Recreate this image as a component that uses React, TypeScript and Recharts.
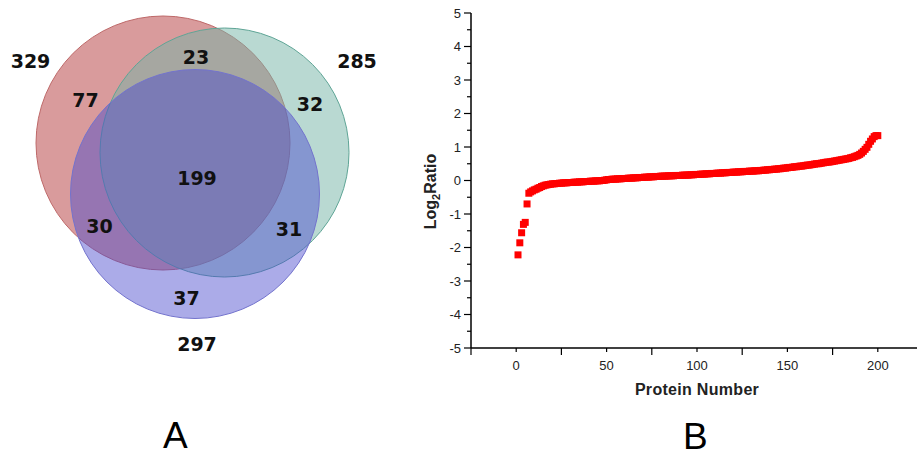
import React from 'react';
import { ScatterChart, Scatter, XAxis, YAxis, Label } from 'recharts';

// ---------- Panel A: Venn data ----------
const setTotals = [329, 285, 297];
const regionNames = ['A only', 'A∩B', 'B only', 'A∩B∩C', 'A∩C', 'B∩C', 'C only'];
const regionCounts = [77, 23, 32, 199, 30, 31, 37];

// ---------- Panel B: protein log2 ratios (sorted) ----------
const log2Ratio = [
  -2.22, -1.86, -1.56, -1.31, -1.25, -0.70, -0.38, -0.34, -0.31, -0.28,
  -0.26, -0.23, -0.21, -0.18, -0.16, -0.14, -0.13, -0.12, -0.11, -0.10,
  -0.10, -0.09, -0.09, -0.08, -0.08, -0.07, -0.07, -0.07, -0.06, -0.06,
  -0.06, -0.05, -0.05, -0.05, -0.04, -0.04, -0.04, -0.03, -0.03, -0.03,
  -0.02, -0.02, -0.02, -0.01, -0.01, -0.01, 0.00, 0.00, 0.01, 0.02,
  0.03, 0.03, 0.04, 0.04, 0.04, 0.05, 0.05, 0.05, 0.06, 0.06,
  0.06, 0.07, 0.07, 0.07, 0.08, 0.08, 0.08, 0.09, 0.09, 0.09,
  0.10, 0.10, 0.10, 0.11, 0.11, 0.11, 0.12, 0.12, 0.12, 0.13,
  0.13, 0.13, 0.13, 0.14, 0.14, 0.14, 0.14, 0.15, 0.15, 0.15,
  0.15, 0.16, 0.16, 0.16, 0.16, 0.17, 0.17, 0.17, 0.18, 0.18,
  0.18, 0.19, 0.19, 0.19, 0.20, 0.20, 0.20, 0.21, 0.21, 0.21,
  0.22, 0.22, 0.22, 0.23, 0.23, 0.23, 0.24, 0.24, 0.24, 0.25,
  0.25, 0.25, 0.26, 0.26, 0.26, 0.27, 0.27, 0.27, 0.28, 0.28,
  0.28, 0.29, 0.29, 0.29, 0.30, 0.30, 0.31, 0.31, 0.32, 0.32,
  0.33, 0.33, 0.34, 0.34, 0.35, 0.35, 0.36, 0.37, 0.37, 0.38,
  0.39, 0.39, 0.40, 0.41, 0.41, 0.42, 0.43, 0.43, 0.44, 0.45,
  0.46, 0.46, 0.47, 0.48, 0.49, 0.50, 0.50, 0.51, 0.52, 0.53,
  0.54, 0.55, 0.55, 0.56, 0.57, 0.58, 0.59, 0.60, 0.61, 0.62,
  0.63, 0.64, 0.65, 0.66, 0.68, 0.69, 0.71, 0.73, 0.75, 0.78,
  0.82, 0.87, 0.93, 0.99, 1.08, 1.17, 1.24, 1.31, 1.34, 1.34,
];
const xTicks = [-25, 0, 25, 50, 75, 100, 125, 150, 175, 200, 225];
const yTicks = [-5, -4.5, -4, -3.5, -3, -2.5, -2, -1.5, -1, -0.5, 0, 0.5, 1, 1.5, 2, 2.5, 3, 3.5, 4, 4.5, 5];

// ---------- Layout (pixel units of the Venn canvas) ----------
const circleLayout = [
  { x: 163, y: 143, r: 127, fill: 'rgb(180,55,57)', op: 0.5, stroke: 'rgb(190,105,105)' },
  { x: 224.5, y: 152.5, r: 124.5, fill: 'rgb(115,179,165)', op: 0.5, stroke: 'rgb(95,165,150)' },
  { x: 195, y: 194, r: 124.5, fill: 'rgb(72,72,205)', op: 0.46, stroke: 'rgb(115,115,205)' },
];
const totalPos = [
  { x: 30.5, y: 61 },
  { x: 357, y: 61 },
  { x: 197, y: 344 },
];
const regionPos = [
  { x: 85.5, y: 100 },
  { x: 196, y: 57 },
  { x: 310, y: 104 },
  { x: 197, y: 178 },
  { x: 99.5, y: 226 },
  { x: 289, y: 229 },
  { x: 186.5, y: 298 },
];

const circles = circleLayout.map((c) => ({ ...c }));
const vennLabels = [
  ...setTotals.map((v, i) => ({ ...totalPos[i], text: String(v) })),
  ...regionCounts.map((v, i) => ({ ...regionPos[i], text: String(v), name: regionNames[i] })),
];
const proteinData = log2Ratio.map((v, i) => ({ x: i + 1, y: v }));

const VennCircle = (props: any) => {
  const { cx, cy, payload } = props;
  return (
    <circle cx={cx} cy={cy} r={payload.r} fill={payload.fill} fillOpacity={payload.op}
      stroke={payload.stroke} strokeWidth={1} />
  );
};

const VennText = (props: any) => {
  const { cx, cy, payload } = props;
  return (
    <text x={cx} y={cy} dy="0.36em" textAnchor="middle" fontFamily="'DejaVu Sans', Verdana, sans-serif"
      fontWeight="bold" fontSize={19} fill="#111">
      {payload.text}
    </text>
  );
};

const Square = (props: any) => {
  const { cx, cy } = props;
  return <rect x={cx - 3.5} y={cy - 3.5} width={7} height={7} fill="#ff0000" />;
};

const FONT = "'Liberation Sans', Arial, sans-serif";

const XTick = (props: any) => {
  const { x, y, payload } = props;
  const v = payload.value;
  const major = v % 50 === 0;
  return (
    <g>
      <line x1={x} x2={x} y1={y} y2={y + (major ? 4 : 7)} stroke="#000" strokeWidth={1.2} />
      {major && (
        <text x={x} y={y + 22} textAnchor="middle" fontFamily={FONT} fontSize={13} fill="#222">
          {v}
        </text>
      )}
    </g>
  );
};

const YTick = (props: any) => {
  const { x, y, payload } = props;
  const v = payload.value;
  const major = Number.isInteger(v);
  return (
    <g>
      <line x1={x - (major ? 7 : 4)} x2={x} y1={y} y2={y} stroke="#000" strokeWidth={1.2} />
      {major && (
        <text x={x - 10} y={y} dy="0.35em" textAnchor="end" fontFamily={FONT} fontSize={13} fill="#222">
          {v}
        </text>
      )}
    </g>
  );
};

const XLabel = (props: any) => {
  const vb = props.viewBox || {};
  const cx = vb.x + vb.width / 2;
  return (
    <text x={cx} y={vb.y + 47} textAnchor="middle" fontFamily={FONT} fontWeight="bold" fontSize={16}
      fill="#222" letterSpacing={0.3}>
      Protein Number
    </text>
  );
};

const YLabel = (props: any) => {
  const vb = props.viewBox || {};
  const cx = vb.x + 19;
  const cy = vb.y + vb.height / 2 + 11;
  return (
    <text x={cx} y={cy} transform={`rotate(-90, ${cx}, ${cy})`} textAnchor="middle" dy="0.35em"
      fontFamily={FONT} fontWeight="bold" fontSize={16} fill="#222">
      Log
      <tspan dy={4} fontSize={11}>2</tspan>
      <tspan dy={-4}>Ratio</tspan>
    </text>
  );
};

export default function App() {
  return (
    <div style={{ position: 'absolute', left: 0, top: 0, width: 917, height: 461, overflow: 'hidden', background: '#fff' }}>
      <div style={{ position: 'absolute', left: 0, top: 0 }}>
        <ScatterChart width={400} height={400} margin={{ top: 0, right: 0, bottom: 0, left: 0 }}>
          <XAxis type="number" dataKey="x" domain={[0, 400]} hide allowDataOverflow height={0} />
          <YAxis type="number" dataKey="y" domain={[0, 400]} reversed hide allowDataOverflow width={0} />
          <Scatter data={circles} shape={VennCircle} isAnimationActive={false} />
          <Scatter data={vennLabels} shape={VennText} isAnimationActive={false} />
        </ScatterChart>
      </div>
      <div style={{ position: 'absolute', left: 400, top: 0 }}>
        <ScatterChart width={523} height={420} margin={{ top: 13, right: 0, bottom: 22, left: 11 }}>
          <XAxis type="number" dataKey="x" domain={[-25, 225]} ticks={xTicks} interval={0} allowDataOverflow
            tick={XTick} tickLine={false} tickSize={0} tickMargin={0} height={50}
            axisLine={{ stroke: '#000', strokeWidth: 1.5 }}>
            <Label content={XLabel} />
          </XAxis>
          <YAxis type="number" dataKey="y" domain={[-5, 5]} ticks={yTicks} interval={0} allowDataOverflow
            tick={YTick} tickLine={false} tickSize={0} tickMargin={0} width={60}
            axisLine={{ stroke: '#000', strokeWidth: 1.5 }}>
            <Label content={YLabel} />
          </YAxis>
          <Scatter data={proteinData} shape={Square} isAnimationActive={false} />
        </ScatterChart>
      </div>
      <div style={{ position: 'absolute', left: 163, top: 414, fontFamily: FONT, fontSize: 37, lineHeight: '44px', color: '#000' }}>A</div>
      <div style={{ position: 'absolute', left: 683, top: 415, fontFamily: FONT, fontSize: 37, lineHeight: '44px', color: '#000' }}>B</div>
    </div>
  );
}
